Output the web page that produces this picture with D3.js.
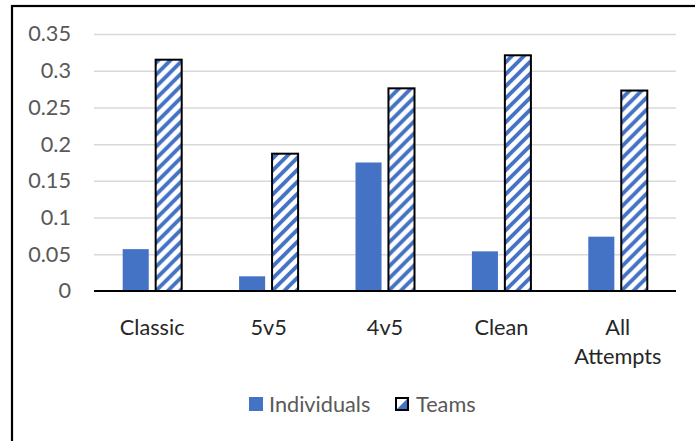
<!DOCTYPE html>
<html>
<head>
<meta charset="utf-8">
<script src="https://cdn.jsdelivr.net/npm/d3@7"></script>
<style>
  html, body { margin: 0; padding: 0; background: #fff; }
  svg { display: block; }
  text { font-family: Lato, "Open Sans", sans-serif; }
</style>
</head>
<body>
<script>
// ---- data ----
const categories = ["Classic", "5v5", "4v5", "Clean", "All Attempts"];
const seriesNames = ["Individuals", "Teams"];
const individuals = [0.057, 0.020, 0.175, 0.054, 0.074];
const teams = [0.315, 0.187, 0.276, 0.321, 0.273];
const yTicks = [0, 0.05, 0.1, 0.15, 0.2, 0.25, 0.3, 0.35];
const yTickLabels = ["0", "0.05", "0.1", "0.15", "0.2", "0.25", "0.3", "0.35"];

const W = 695, H = 441;
const plot = { left: 94, right: 676, top: 34, bottom: 291 };
const blue = "#4472C4";
const FS = 21.7;

const svg = d3.select("body").append("svg").attr("width", W).attr("height", H);
svg.append("rect").attr("width", W).attr("height", H).attr("fill", "#fff");

// hatch pattern (wide upward diagonal)
const defs = svg.append("defs");
const pat = defs.append("pattern")
  .attr("id", "hatch").attr("patternUnits", "userSpaceOnUse")
  .attr("width", 12).attr("height", 12);
pat.append("rect").attr("width", 12).attr("height", 12).attr("fill", "#fff");
pat.append("path")
  .attr("d", "M-3,3 L3,-3 M0,12 L12,0 M9,15 L15,9")
  .attr("stroke", blue).attr("stroke-width", 3.8).attr("fill", "none");

// chart border (extends past viewport on right/bottom)
svg.append("rect")
  .attr("x", 12).attr("y", 6).attr("width", W + 20).attr("height", H + 20)
  .attr("fill", "none").attr("stroke", "#000").attr("stroke-width", 2.2);

// scales
const y = d3.scaleLinear().domain([0, 0.35]).range([plot.bottom, plot.top]);
const x0 = d3.scaleBand().domain(categories).range([plot.left, plot.right]).padding(0);
const groupW = 59;
const x1 = d3.scaleBand().domain(seriesNames).range([0, groupW]).paddingInner(0.21).paddingOuter(0);

// gridlines
const grid = svg.append("g").attr("transform", `translate(${plot.left},0)`)
  .call(d3.axisLeft(y).tickValues(yTicks.slice(1)).tickSize(-(plot.right - plot.left)).tickFormat(""));
grid.select(".domain").remove();
grid.selectAll("line").attr("stroke", "#d9d9d9").attr("stroke-width", 1.5);

// y axis labels
const yAxis = svg.append("g").attr("transform", `translate(${plot.left - 23},0)`)
  .call(d3.axisLeft(y).tickValues(yTicks).tickSize(0).tickPadding(0)
    .tickFormat((d, i) => yTickLabels[i]));
yAxis.select(".domain").remove();
yAxis.selectAll("text").attr("font-size", FS).attr("fill", "#595959")
  .attr("font-family", "Lato, 'Open Sans', sans-serif");

// bars
const rows = categories.map((c, i) => ({ cat: c, vals: [
  { s: "Individuals", v: individuals[i] },
  { s: "Teams", v: teams[i] }
]}));
const groups = svg.append("g").selectAll("g").data(rows).join("g")
  .attr("transform", d => `translate(${x0(d.cat) + (x0.bandwidth() - groupW) / 2},0)`);
groups.selectAll("rect").data(d => d.vals).join("rect")
  .attr("x", d => x1(d.s))
  .attr("y", d => y(d.v))
  .attr("width", x1.bandwidth())
  .attr("height", d => y(0) - y(d.v))
  .attr("fill", d => d.s === "Teams" ? "url(#hatch)" : blue)
  .attr("stroke", d => d.s === "Teams" ? "#000" : "none")
  .attr("stroke-width", 2);

// x axis line
svg.append("line")
  .attr("x1", plot.left).attr("x2", plot.right)
  .attr("y1", y(0)).attr("y2", y(0))
  .attr("stroke", "#000").attr("stroke-width", 2);

// category labels with wrapping
const catG = svg.append("g");
categories.forEach(c => {
  const cx = x0(c) + x0.bandwidth() / 2;
  const t = catG.append("text").attr("x", cx).attr("y", 335)
    .attr("text-anchor", "middle").attr("font-size", FS).attr("fill", "#262626").text(c);
  if (t.node().getComputedTextLength() > x0.bandwidth() - 4) {
    const words = c.split(" ");
    t.text(null);
    words.forEach((w, i) => {
      t.append("tspan").attr("x", cx).attr("dy", i === 0 ? 0 : 29).text(w);
    });
    t.attr("y", 335);
  }
});

// legend
const leg = svg.append("g");
const legY = 397, sq = 14;
// Individuals
leg.append("rect").attr("x", 249).attr("y", legY).attr("width", sq).attr("height", sq).attr("fill", blue);
leg.append("text").attr("x", 269).attr("y", legY + 15).attr("font-size", FS).attr("fill", "#595959").text(seriesNames[0]);
// Teams
leg.append("rect").attr("x", 396).attr("y", legY + 1).attr("width", sq - 2).attr("height", sq - 2)
  .attr("fill", "#fff").attr("stroke", "#000").attr("stroke-width", 2);
leg.append("path")
  .attr("d", `M${396 + 1},${legY + 12} L${396 + 11},${legY + 2} L${396 + 11},${legY + 12} Z`)
  .attr("fill", blue);
leg.append("text").attr("x", 416).attr("y", legY + 15).attr("font-size", FS).attr("fill", "#595959").text(seriesNames[1]);
</script>
</body>
</html>
